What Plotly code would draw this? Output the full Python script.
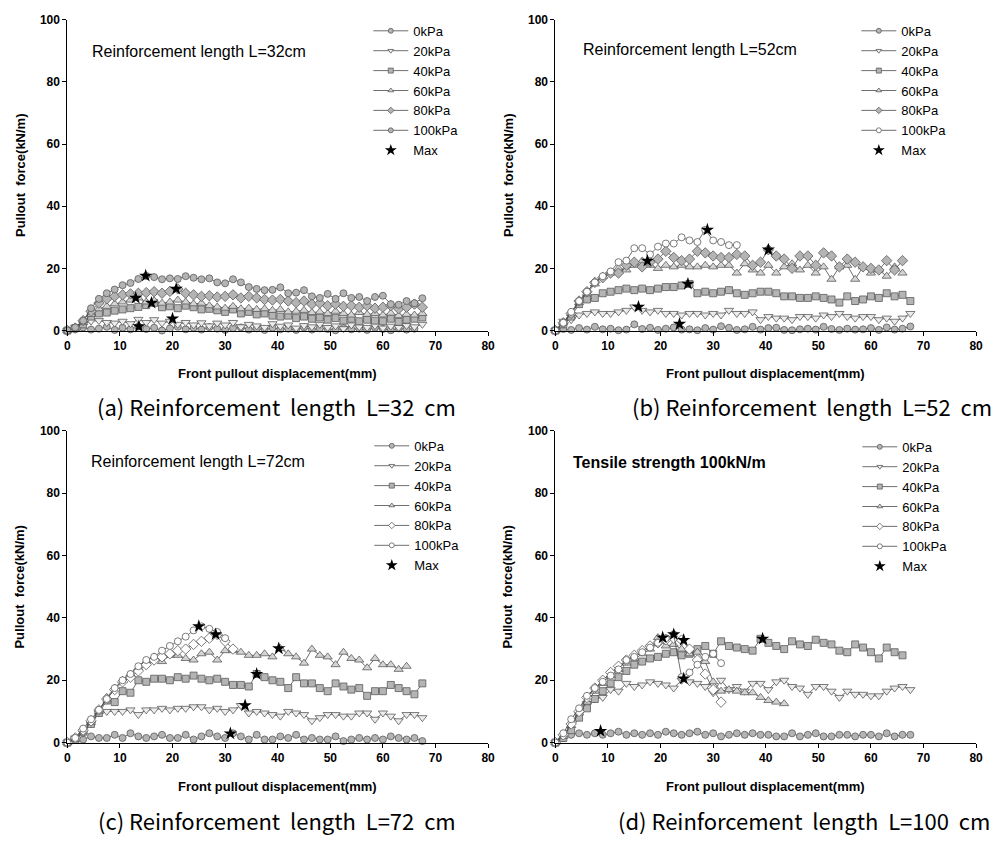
import plotly.graph_objects as go

# ---------------- data ----------------
# front pullout displacement grid (mm)
disp_mm = [0, 1.5, 3, 4.5, 6, 7.5, 9, 10.5, 12, 13.5,
           15, 16.5, 18, 19.5, 21, 22.5, 24, 25.5, 27, 28.5,
           30, 31.5, 33, 34.5, 36, 37.5, 39, 40.5, 42, 43.5,
           45, 46.5, 48, 49.5, 51, 52.5, 54, 55.5, 57, 58.5,
           60, 61.5, 63, 64.5, 66, 67.5]

series_names = ["0kPa", "20kPa", "40kPa", "60kPa", "80kPa", "100kPa"]

# (a) L = 32 cm
a_0kpa = [0, 0.4, 1.0, 0.3, 0.6, 1.2, 0.2, 0.9, 0.4, 1.3,
          0.5, 0.9, 0.0, 0.7, 1.2, 0.4, 0.9, 0.3, 1.1, 0.6,
          0.2, 0.8, 1.0, 0.3, 0.7, 0.2, 0.9, 0.4, 0.6, 0.2,
          1.0, 0.3, 0.7, 0.5, 0.1, 0.8, 0.4, 0.6, 0.2, 0.9,
          0.5, 0.1, 0.7, 0.3, 0.6]
a_20kpa = [0, 1.0, 2.2, 3.0, 3.2, 2.6, 2.4, 3.0, 2.2, 3.6,
           2.6, 3.5, 2.4, 3.0, 2.0, 2.6, 1.8, 2.5, 1.5, 2.4,
           1.8, 2.6, 1.2, 2.0, 1.5, 1.0, 2.2, 1.4, 1.8, 0.8,
           1.6, 1.2, 2.0, 1.0, 1.5, 0.6, 1.8, 1.2, 1.0, 1.6,
           0.8, 1.4, 1.0, 1.6, 1.2, 2.0]
a_40kpa = [0, 0.8, 2.0, 4.5, 5.5, 5.8, 6.4, 6.8, 7.2, 7.6,
           8.2, 8.9, 7.5, 7.8, 7.2, 8.0, 7.5, 6.8, 7.0, 6.5,
           6.0, 6.8, 5.5, 6.0, 5.2, 5.5, 4.8, 4.5, 4.8, 4.0,
           4.5, 3.8, 4.2, 3.5, 4.0, 3.2, 3.8, 3.0, 3.5, 3.2,
           3.0, 3.8, 2.8, 3.5, 3.8, 4.2]
a_60kpa = [0, 0.6, 2.6, 5.2, 7.0, 7.8, 8.6, 9.2, 9.8, 10.5,
           9.2, 9.6, 8.8, 9.2, 9.8, 9.2, 8.6, 8.8, 8.0, 7.6,
           7.2, 7.8, 7.0, 7.2, 6.8, 7.0, 6.5, 6.8, 6.0, 6.2,
           6.5, 5.8, 6.0, 5.5, 6.2, 5.5, 5.0, 5.8, 5.2, 5.5,
           5.0, 5.6, 4.8, 5.2, 5.0, 5.5]
a_80kpa = [0, 0.8, 3.2, 6.2, 8.8, 10.2, 11.0, 11.5, 11.8, 12.0,
           12.2, 12.5, 12.0, 12.6, 13.4, 12.0, 11.5, 11.0, 11.2, 10.8,
           11.0, 11.5, 10.5, 11.0, 10.5, 10.0, 9.8, 10.0, 9.5, 9.0,
           9.5, 8.5, 8.8, 8.0, 8.5, 7.8, 8.0, 7.5, 8.0, 7.2,
           7.5, 8.0, 7.0, 7.5, 8.5, 7.5]
a_100kpa = [0, 1.0, 3.2, 7.2, 10.2, 12.0, 13.2, 14.6, 15.3, 16.6,
            17.6, 17.2, 16.5, 16.8, 16.6, 17.5, 17.0, 16.5, 16.8, 15.5,
            15.2, 16.5, 15.5, 14.0, 13.4, 13.0, 13.1, 13.9, 12.0, 12.2,
            13.0, 11.0, 10.5, 11.8, 10.2, 12.0, 10.5, 10.8, 9.5, 10.8,
            11.2, 8.5, 8.3, 9.5, 8.8, 10.4]
a_max_x = [14.9, 20.7, 13.0, 16.0, 20.0, 13.6]
a_max_y = [17.6, 13.4, 10.5, 8.9, 3.8, 1.3]

# (b) L = 52 cm
b_0kpa = [0, 0.5, 0.2, 0.8, 0.3, 1.2, 0.4, 0.6, 0.1, 0.3,
          2.0, 0.5, 0.9, 0.2, 0.6, 1.0, 0.3, 0.4, 0.1, 0.8,
          0.3, 1.4, 0.9, 0.2, 0.4, 1.2, 0.3, 0.8, 0.9, 0.2,
          0.1, 0.4, 0.6, 0.3, 1.2, 0.5, 0.2, 0.6, 0.3, 0.4,
          0.8, 0.2, 1.0, 0.3, 0.6, 1.3]
b_20kpa = [0, 3.0, 3.5, 5.0, 5.5, 6.0, 5.5, 5.5, 6.0, 6.5,
           7.6, 6.5, 6.0, 6.5, 5.5, 5.5, 5.0, 5.5, 5.5, 5.0,
           5.5, 5.0, 6.5, 5.5, 5.5, 6.0, 3.5, 4.5, 4.0, 4.0,
           3.5, 4.5, 4.5, 4.0, 5.0, 4.5, 5.5, 4.5, 4.0, 4.5,
           4.5, 3.5, 4.0, 3.0, 4.0, 5.5]
b_40kpa = [0, 2.0, 4.5, 8.5, 10.0, 10.5, 12.0, 12.5, 13.0, 13.5,
           13.0, 13.5, 13.0, 13.5, 14.0, 14.0, 14.5, 15.0, 12.0, 12.5,
           12.0, 12.5, 13.0, 12.0, 11.5, 12.0, 12.5, 12.5, 12.0, 11.0,
           11.0, 10.5, 10.5, 11.0, 10.5, 10.0, 9.0, 11.0, 9.5, 10.0,
           11.0, 10.5, 12.0, 11.0, 11.5, 9.5]
b_60kpa = [0, 2.5, 5.5, 9.0, 12.0, 15.0, 17.5, 18.5, 20.0, 19.5,
           21.0, 22.4, 21.0, 20.0, 21.0, 20.5, 21.0, 20.5, 20.5, 21.0,
           20.5, 21.0, 21.0, 18.5, 21.5, 19.5, 18.5, 21.0, 18.5, 20.5,
           21.5, 19.5, 21.0, 18.5, 20.5, 16.5, 20.5, 21.0, 16.5, 20.5,
           18.5, 19.5, 17.5, 20.5, 18.5]
b_80kpa = [0, 2.5, 5.5, 9.5, 12.5, 15.5, 17.0, 18.5, 18.5, 21.0,
           22.0, 20.5, 22.0, 23.0, 25.5, 23.5, 22.5, 23.0, 25.5, 25.0,
           24.0, 23.5, 23.5, 24.5, 24.0, 21.0, 22.0, 26.0, 24.0, 23.0,
           20.0, 24.0, 24.0, 21.0, 25.0, 24.0, 20.5, 23.0, 22.0, 20.5,
           20.0, 19.5, 22.5, 19.5, 22.5]
b_100kpa = [0, 2.5, 6.0, 9.5, 12.5, 15.5, 17.5, 19.0, 22.0, 22.5,
            26.5, 26.5, 24.5, 27.0, 28.0, 28.0, 30.0, 29.0, 28.5, 32.4,
            29.0, 28.5, 27.5, 27.5]
b_max_x = [28.9, 40.5, 17.5, 25.2, 15.8, 23.6]
b_max_y = [32.4, 26.0, 22.4, 15.0, 7.6, 2.1]

# (c) L = 72 cm
c_0kpa = [0, 1.5, 1.0, 2.0, 1.5, 1.5, 2.5, 1.5, 3.0, 2.0,
          1.5, 2.0, 2.5, 1.5, 1.5, 2.5, 1.0, 2.0, 3.0, 2.0,
          1.5, 3.0, 2.0, 1.0, 2.5, 1.0, 1.0, 2.0, 1.5, 2.5,
          1.0, 1.5, 1.0, 1.0, 2.0, 0.5, 1.0, 1.5, 1.0, 1.5,
          1.0, 2.0, 1.5, 1.0, 1.5, 0.5]
c_20kpa = [0, 1.5, 3.0, 6.0, 9.5, 10.0, 10.0, 10.0, 10.5, 9.0,
           10.5, 10.5, 11.0, 10.5, 11.0, 11.0, 11.5, 11.5, 10.5, 11.0,
           10.0, 10.5, 11.9, 9.5, 10.0, 9.5, 9.0, 8.5, 10.0, 9.5,
           9.0, 7.0, 8.0, 9.0, 9.0, 8.5, 8.5, 9.5, 9.5, 7.5,
           9.5, 8.5, 7.0, 9.0, 9.0, 8.0]
c_40kpa = [0, 1.0, 3.5, 6.0, 9.5, 13.5, 13.0, 16.5, 16.0, 20.0,
           19.5, 20.5, 20.5, 20.0, 21.0, 20.5, 21.5, 20.5, 20.0, 20.5,
           19.5, 18.5, 18.5, 18.0, 22.0, 21.0, 20.0, 19.5, 17.5, 21.0,
           19.0, 19.0, 17.5, 16.5, 19.0, 18.0, 17.0, 17.5, 15.0, 16.5,
           16.5, 18.5, 17.5, 16.5, 15.5, 19.0]
c_60kpa = [0, 1.0, 3.5, 6.5, 10.0, 14.5, 17.5, 20.0, 22.0, 24.0,
           26.0, 27.5, 26.0, 28.0, 28.0, 27.0, 26.5, 28.5, 29.0, 26.5,
           29.5, 29.5, 29.0, 28.0, 28.0, 28.5, 27.5, 30.2, 28.5, 27.5,
           25.5, 30.0, 28.0, 27.5, 25.0, 29.0, 27.0, 26.5, 24.0, 27.0,
           25.0, 25.0, 23.5, 24.5]
c_80kpa = [0, 1.5, 4.0, 7.0, 10.5, 14.0, 17.0, 19.5, 21.0, 23.0,
           25.0, 26.5, 27.5, 28.5, 29.5, 30.0, 31.5, 32.5, 33.5, 34.7,
           32.5, 30.0]
c_100kpa = [0, 1.5, 4.5, 7.5, 10.5, 14.0, 17.5, 20.0, 22.0, 24.5,
            26.5, 27.5, 29.5, 31.0, 32.5, 34.0, 36.0, 37.3, 36.5, 35.5,
            33.5]
c_max_x = [25.0, 28.2, 40.2, 36.0, 33.8, 31.0]
c_max_y = [37.3, 34.7, 30.2, 22.0, 11.9, 2.9]

# (d) L = 100 cm
d_0kpa = [0, 1.5, 2.5, 3.0, 2.5, 3.0, 2.5, 3.0, 3.5, 2.5,
          3.0, 2.5, 3.0, 2.5, 3.5, 3.0, 2.5, 3.0, 3.5, 2.5,
          3.0, 2.0, 2.5, 3.0, 2.5, 3.0, 2.5, 2.5, 2.0, 2.0,
          3.0, 2.0, 2.5, 3.0, 2.0, 2.0, 2.5, 2.5, 2.0, 2.5,
          2.5, 2.0, 3.0, 2.0, 2.5, 2.5]
d_20kpa = [0, 2.0, 5.5, 9.0, 12.5, 14.0, 14.5, 17.0, 16.5, 19.0,
           18.0, 18.5, 19.5, 19.0, 18.5, 17.5, 20.0, 19.5, 19.0, 18.0,
           16.0, 20.0, 17.0, 18.0, 16.5, 19.0, 19.0, 17.0, 19.5, 20.0,
           18.0, 17.5, 15.5, 18.0, 18.0, 16.5, 14.5, 16.5, 15.5, 15.5,
           15.0, 15.0, 16.5, 17.5, 18.0, 17.0]
d_40kpa = [0, 1.5, 4.0, 8.0, 11.0, 14.0, 16.5, 19.0, 21.0, 23.0,
           25.0, 26.0, 27.0, 27.5, 28.5, 29.0, 28.0, 28.5, 30.0, 31.0,
           28.5, 32.5, 31.0, 30.5, 30.0, 29.5, 33.3, 32.0, 31.0, 30.0,
           32.5, 31.5, 31.0, 33.0, 32.0, 31.5, 29.5, 29.0, 31.5, 30.5,
           29.0, 27.0, 30.5, 29.0, 28.0]
d_60kpa = [0, 2.0, 5.5, 9.5, 13.0, 16.5, 19.0, 21.5, 23.5, 25.5,
           27.0, 28.5, 30.0, 33.7, 31.0, 31.5, 30.0, 28.5, 29.0, 26.0,
           19.5, 16.5, 17.0, 16.5, 16.0, 16.0, 14.5, 13.5, 13.0, 12.5]
d_80kpa = [0, 2.5, 6.0, 10.0, 14.5, 17.5, 20.0, 22.5, 24.5, 26.5,
           28.0, 29.5, 31.0, 32.0, 33.0, 33.5, 32.9, 30.0, 26.5, 22.0,
           17.0, 13.0]
d_100kpa = [0, 3.0, 7.5, 11.0, 15.0, 17.5, 19.5, 21.5, 23.5, 26.5,
            27.5, 29.0, 30.5, 32.0, 33.5, 34.7, 21.0, 22.5, 25.0, 27.5,
            28.5, 25.5]
d_max_x = [22.5, 24.4, 20.4, 39.4, 24.4, 8.6]
d_max_y = [34.7, 32.9, 33.7, 33.3, 20.5, 3.7]

inset_texts = ["Reinforcement length L=32cm", "Reinforcement length L=52cm",
               "Reinforcement length L=72cm", "Tensile strength 100kN/m"]
captions = ["(a) Reinforcement  length  L=32  cm", "(b) Reinforcement  length  L=52  cm",
            "(c) Reinforcement  length  L=72  cm", "(d) Reinforcement  length  L=100  cm"]
x_title = "Front pullout displacement(mm)"
y_title = "Pullout  force(kN/m)"

# ---------------- styling ----------------
W, H = 995, 846
GRAY = "#b4b4b4"
LIGHT = "#d4d4d4"
PALE = "#ececec"
WHITE = "#ffffff"
symbols = ["circle", "triangle-down", "square", "triangle-up", "diamond", "circle"]
sizes = [7, 8, 7, 8, 8, 7]
fills = [
    [GRAY, PALE, GRAY, LIGHT, GRAY, GRAY],
    [GRAY, PALE, GRAY, LIGHT, GRAY, WHITE],
    [GRAY, PALE, GRAY, LIGHT, WHITE, WHITE],
    [GRAY, PALE, GRAY, LIGHT, WHITE, WHITE],
]

panels = [
    dict(ys=[a_0kpa, a_20kpa, a_40kpa, a_60kpa, a_80kpa, a_100kpa], mx=a_max_x, my=a_max_y),
    dict(ys=[b_0kpa, b_20kpa, b_40kpa, b_60kpa, b_80kpa, b_100kpa], mx=b_max_x, my=b_max_y),
    dict(ys=[c_0kpa, c_20kpa, c_40kpa, c_60kpa, c_80kpa, c_100kpa], mx=c_max_x, my=c_max_y),
    dict(ys=[d_0kpa, d_20kpa, d_40kpa, d_60kpa, d_80kpa, d_100kpa], mx=d_max_x, my=d_max_y),
]

# pixel geometry of the plot areas (left, right, top, bottom)
boxes = [(65, 490, 13, 329), (558, 983, 13, 329), (65, 490, 431, 748), (558, 983, 431, 748)]
legend_pos = [(369, 9), (862, 9), (370, 431), (863, 432)]
inset_pos = [(88, 45), (584, 43), (87, 462), (574, 463)]
caption_pos = [(93, 406), (633, 406), (94, 827), (619, 827)]
xtitle_y = [373, 373, 793, 793]
ytitle_x = [17, 510, 17, 510]

LINE_COLOR = "#4a4a4a"
EDGE_COLOR = "#5a5a5a"


def px(x):
    return x / W


def py(y):
    return 1 - y / H


fig = go.Figure()
for k, p in enumerate(panels):
    ax = "" if k == 0 else str(k + 1)
    leg = "legend" if k == 0 else "legend%d" % (k + 1)
    for i, yv in enumerate(p["ys"]):
        fig.add_trace(go.Scatter(
            x=disp_mm[:len(yv)], y=yv, name=series_names[i], showlegend=False,
            mode="lines+markers", xaxis="x" + ax, yaxis="y" + ax,
            line=dict(color=LINE_COLOR, width=0.8),
            marker=dict(symbol=symbols[i], size=sizes[i], color=fills[k][i],
                        line=dict(color=EDGE_COLOR, width=0.8)),
            cliponaxis=False,
        ))
    fig.add_trace(go.Scatter(
        x=p["mx"], y=p["my"], name="Max", mode="markers", showlegend=False,
        xaxis="x" + ax, yaxis="y" + ax,
        marker=dict(symbol="star", size=10, color="black", line=dict(width=0)),
        cliponaxis=False,
    ))
    # legend entries (small symbols, as in the original key)
    for i in range(6):
        fig.add_trace(go.Scatter(
            x=[None], y=[None], name=series_names[i], mode="lines+markers",
            xaxis="x" + ax, yaxis="y" + ax, legend=leg, hoverinfo="skip",
            line=dict(color=LINE_COLOR, width=0.8),
            marker=dict(symbol=symbols[i], size=5, color=fills[k][i],
                        line=dict(color=EDGE_COLOR, width=0.8)),
        ))
    fig.add_trace(go.Scatter(
        x=[None], y=[None], name="Max", mode="markers", legend=leg,
        xaxis="x" + ax, yaxis="y" + ax, hoverinfo="skip",
        marker=dict(symbol="star", size=9, color="black", line=dict(width=0)),
    ))

axis_common = dict(showline=True, linecolor="black", linewidth=1, ticks="outside",
                   ticklen=4, tickcolor="black", tickwidth=1, showgrid=False,
                   zeroline=False, mirror=False,
                   tickfont=dict(family="Arial", size=12, color="black", weight="bold"))

layout = dict(width=W, height=H, margin=dict(l=0, r=0, t=0, b=0),
              plot_bgcolor="white", paper_bgcolor="white", showlegend=True)
annotations = []
for k, (l, r, t, b) in enumerate(boxes):
    ax = "" if k == 0 else str(k + 1)
    layout["xaxis" + ax] = dict(axis_common, domain=[px(l), px(r)], range=[0, 80],
                                tickvals=[0, 10, 20, 30, 40, 50, 60, 70, 80],
                                anchor="y" + ax)
    layout["yaxis" + ax] = dict(axis_common, domain=[py(b), py(t)], range=[0, 100],
                                tickvals=[0, 20, 40, 60, 80, 100],
                                anchor="x" + ax)
    leg = "legend" if k == 0 else "legend%d" % (k + 1)
    lx, ly = legend_pos[k]
    layout[leg] = dict(x=px(lx), y=py(ly), xanchor="left", yanchor="top",
                       bgcolor="rgba(0,0,0,0)", borderwidth=0,
                       font=dict(family="Arial", size=13, color="black"),
                       itemwidth=35, tracegroupgap=0)
    ix, iy = inset_pos[k]
    annotations.append(dict(text=inset_texts[k], x=px(ix), y=py(iy), xref="paper", yref="paper",
                            xanchor="left", yanchor="middle", showarrow=False,
                            font=dict(family="Arial", size=16, color="black",
                                      weight="bold" if k == 3 else "normal")))
    cx, cy = caption_pos[k]
    annotations.append(dict(text=captions[k], x=px(cx), y=py(cy), xref="paper", yref="paper",
                            xanchor="left", yanchor="middle", showarrow=False,
                            font=dict(family="Noto Sans CJK KR", size=22, color="black")))
    annotations.append(dict(text=x_title, x=px((l + r) / 2), y=py(xtitle_y[k]),
                            xref="paper", yref="paper", xanchor="center", yanchor="middle",
                            showarrow=False,
                            font=dict(family="Arial", size=13, color="black", weight="bold")))
    annotations.append(dict(text=y_title, x=px(ytitle_x[k]), y=py((t + b) / 2),
                            xref="paper", yref="paper", xanchor="center", yanchor="middle",
                            showarrow=False, textangle=-90,
                            font=dict(family="Arial", size=13, color="black", weight="bold")))
layout["annotations"] = annotations
fig.update_layout(**layout)
fig.write_html("out.html")
